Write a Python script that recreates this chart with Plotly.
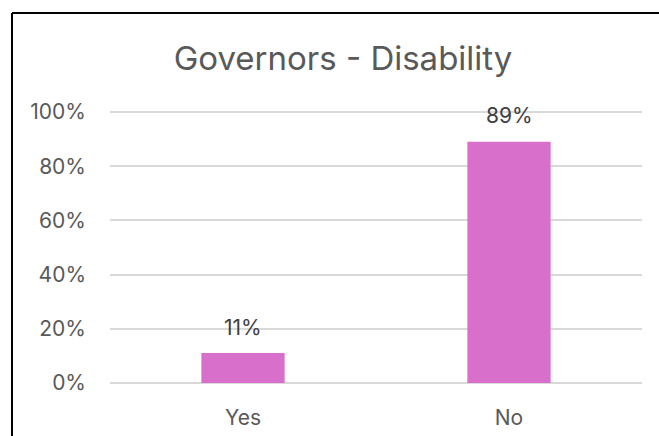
import plotly.graph_objects as go

# Survey responses: governors reporting a disability
categories = ["Yes", "No"]
shares = [0.11, 0.89]
y_ticks = [0, 0.2, 0.4, 0.6, 0.8, 1.0]
y_tick_labels = ["0%", "20%", "40%", "60%", "80%", "100%"]
title_text = "Governors - Disability"

W, H = 659, 436
M_L, M_R, M_T, M_B = 110, 17, 111, 52
FONT = "Inter, Open Sans, Arial, sans-serif"
TEXT_GREY = "#595959"

fig = go.Figure(
    go.Bar(
        x=categories,
        y=shares,
        width=0.313,
        marker=dict(color="#D86FCA", line=dict(width=0)),
        hoverinfo="skip",
    )
)

# value labels above each bar
for c, v in zip(categories, shares):
    fig.add_annotation(
        x=c, y=v, text=f"{round(v * 100)}%", showarrow=False,
        yshift=26, font=dict(family=FONT, size=21, color="#404040"),
    )

# chart frame (left and top edges visible)
pw = W - M_L - M_R
ph = H - M_T - M_B
fx = (12 - M_L) / pw
fy_top = (H - M_B - 13) / ph
fig.add_shape(type="line", xref="paper", yref="paper",
              x0=fx, x1=fx, y0=fy_top, y1=-0.3,
              line=dict(color="#000000", width=2))
fig.add_shape(type="line", xref="paper", yref="paper",
              x0=fx, x1=1.1, y0=fy_top, y1=fy_top,
              line=dict(color="#000000", width=2))

fig.update_layout(
    width=W, height=H,
    margin=dict(l=M_L, r=M_R, t=M_T, b=M_B),
    paper_bgcolor="white", plot_bgcolor="white",
    showlegend=False,
    title=dict(text=title_text, x=343 / W, xref="container",
               xanchor="center", y=1 - 58 / H, yanchor="middle",
               font=dict(family=FONT, size=33, color=TEXT_GREY)),
    font=dict(family=FONT, color=TEXT_GREY),
    xaxis=dict(showgrid=False, showline=False, zeroline=False,
               ticks="", tickfont=dict(size=21, color=TEXT_GREY),
               ticklabelstandoff=19, automargin=False),
    yaxis=dict(range=[-0.004, 1.004], tickvals=y_ticks, ticktext=y_tick_labels,
               showgrid=True, gridcolor="#D9D9D9", gridwidth=1.5,
               zeroline=False, showline=False, ticks="",
               tickfont=dict(size=21, color=TEXT_GREY),
               ticklabelstandoff=23, automargin=False),
)

fig.write_html("out.html")
